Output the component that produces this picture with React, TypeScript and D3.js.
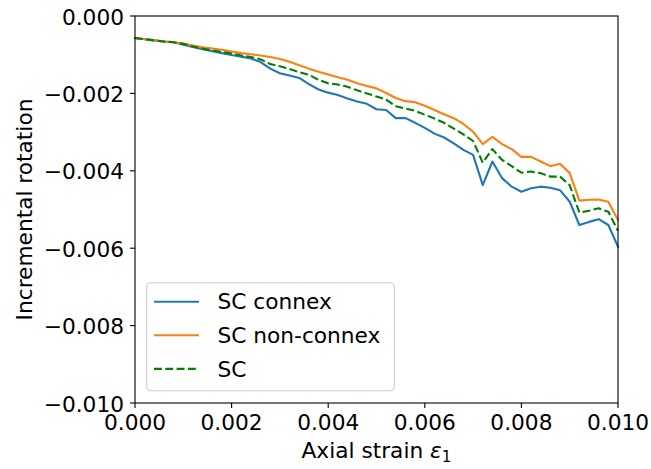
import React from "react";
import * as d3 from "d3";

const strain = [
  0, 0.0002, 0.0004, 0.0006, 0.0008, 0.001, 0.0012, 0.0014, 0.0016, 0.0018,
  0.002, 0.0022, 0.0024, 0.0026, 0.0028, 0.003, 0.0032, 0.0034, 0.0036, 0.0038,
  0.004, 0.0042, 0.0044, 0.0046, 0.0048, 0.005, 0.0052, 0.0054, 0.0056, 0.0058,
  0.006, 0.0062, 0.0064, 0.0066, 0.0068, 0.007, 0.0072, 0.0074, 0.0076, 0.0078,
  0.008, 0.0082, 0.0084, 0.0086, 0.0088, 0.009, 0.0092, 0.0094, 0.0096, 0.0098,
  0.01,
];

const scConnex = [
  -0.00057, -0.0006, -0.00063, -0.00066, -0.00068, -0.00074, -0.0008, -0.00086, -0.00091, -0.00096,
  -0.00101, -0.00105, -0.0011, -0.00119, -0.00136, -0.00148, -0.00154, -0.0016, -0.00176, -0.0019,
  -0.00198, -0.00204, -0.00213, -0.00221, -0.00227, -0.00241, -0.00243, -0.00264, -0.00264, -0.00276,
  -0.00289, -0.00304, -0.00314, -0.00329, -0.00346, -0.00359, -0.00437, -0.00376, -0.00419, -0.00441,
  -0.00454, -0.00445, -0.00441, -0.00444, -0.0045, -0.0048, -0.0054, -0.00532, -0.00525, -0.0054,
  -0.00596,
];

const scNonConnex = [
  -0.00057, -0.0006, -0.00063, -0.00066, -0.00068, -0.00071, -0.00076, -0.00081, -0.00084, -0.00087,
  -0.00092, -0.00096, -0.00099, -0.00102, -0.00106, -0.00111, -0.00118, -0.00127, -0.00136, -0.00144,
  -0.00151, -0.00158, -0.00165, -0.00174, -0.00181, -0.00187, -0.00199, -0.00212, -0.0022, -0.00223,
  -0.00232, -0.00243, -0.00254, -0.00264, -0.00279, -0.00299, -0.00331, -0.00312, -0.00331, -0.00344,
  -0.00364, -0.00364, -0.00376, -0.00388, -0.00382, -0.00406, -0.00477, -0.00475, -0.00474, -0.0048,
  -0.00527,
];

const scAll = [
  -0.00057, -0.0006, -0.00063, -0.00066, -0.00068, -0.00072, -0.00079, -0.00084, -0.00089, -0.00093,
  -0.00097, -0.00102, -0.00106, -0.00112, -0.00124, -0.0013, -0.00137, -0.00145, -0.00152, -0.00165,
  -0.00174, -0.00177, -0.00183, -0.00192, -0.002, -0.00208, -0.00216, -0.00233, -0.00239, -0.00245,
  -0.00255, -0.00265, -0.00276, -0.00291, -0.00306, -0.00323, -0.00379, -0.00344, -0.00372, -0.00388,
  -0.00405, -0.00402, -0.00406, -0.00415, -0.00415, -0.00437, -0.00508, -0.00503, -0.00497, -0.00506,
  -0.00555,
];

const xTicks = [0, 0.002, 0.004, 0.006, 0.008, 0.01];
const xTickLabels = ["0.000", "0.002", "0.004", "0.006", "0.008", "0.010"];
const yTicks = [0, -0.002, -0.004, -0.006, -0.008, -0.01];
const yTickLabels = ["0.000", "\u22120.002", "\u22120.004", "\u22120.006", "\u22120.008", "\u22120.010"];

const seriesNames = ["SC connex", "SC non-connex", "SC"];
const seriesColors = ["#1f77b4", "#ff7f0e", "#008000"];
const seriesDash = [null, null, "7.9,3.4"];
const seriesValues = [scConnex, scNonConnex, scAll];

const W = 651;
const H = 469;
const L = 135;
const R = 618;
const T = 16;
const B = 403;
const FONT = "'DejaVu Sans', sans-serif";
const FS = 21.7;

export default function App() {
  const x = d3.scaleLinear().domain([0, 0.01]).range([L, R]);
  const y = d3.scaleLinear().domain([-0.01, 0]).range([B, T]);
  const line = d3
    .line<number>()
    .x((_, i) => x(strain[i]))
    .y((d) => y(d));

  const legX = 146.7;
  const legY = 282.7;
  const rowY = [301.7, 335.2, 368.9];

  return (
    <div style={{ position: "absolute", left: 0, top: 0 }}>
      <svg width={W} height={H} style={{ display: "block", background: "#fff" }} fontFamily={FONT}>
        <rect x={0} y={0} width={W} height={H} fill="#fff" />
        {seriesValues.map((vals, k) => (
          <path
            key={k}
            d={line(vals) || ""}
            fill="none"
            stroke={seriesColors[k]}
            strokeWidth={2.1}
            strokeDasharray={seriesDash[k] || undefined}
            strokeLinejoin="round"
            strokeLinecap={seriesDash[k] ? "butt" : "square"}
          />
        ))}
        {/* spines */}
        <rect x={L} y={T} width={R - L} height={B - T} fill="none" stroke="#000" strokeWidth={1.1} />
        {/* x ticks */}
        {xTicks.map((t, i) => (
          <g key={"xt" + i}>
            <line x1={x(t)} x2={x(t)} y1={B} y2={B + 5} stroke="#000" strokeWidth={1.1} />
            <text x={x(t)} y={B + 27} fontSize={FS} textAnchor="middle" fill="#000">
              {xTickLabels[i]}
            </text>
          </g>
        ))}
        {/* y ticks */}
        {yTicks.map((t, i) => (
          <g key={"yt" + i}>
            <line x1={L - 5} x2={L} y1={y(t)} y2={y(t)} stroke="#000" strokeWidth={1.1} />
            <text x={L - 11} y={y(t) + 8.5} fontSize={FS} textAnchor="end" fill="#000">
              {yTickLabels[i]}
            </text>
          </g>
        ))}
        {/* axis labels */}
        <text x={(L + R) / 2} y={458} fontSize={FS} textAnchor="middle" fill="#000">
          Axial strain{" "}
          <tspan fontStyle="italic">ε</tspan>
          <tspan fontSize={FS * 0.7} dy={4}>1</tspan>
        </text>
        <text
          transform={`translate(32, ${(T + B) / 2}) rotate(-90)`}
          fontSize={FS}
          textAnchor="middle"
          fill="#000"
        >
          Incremental rotation
        </text>
        {/* legend */}
        <rect
          x={legX}
          y={legY}
          width={247.6}
          height={108}
          rx={4}
          ry={4}
          fill="#fff"
          fillOpacity={0.8}
          stroke="#cccccc"
          strokeWidth={1.1}
        />
        {seriesNames.map((name, k) => (
          <g key={"lg" + k}>
            <line
              x1={154}
              x2={199}
              y1={rowY[k]}
              y2={rowY[k]}
              stroke={seriesColors[k]}
              strokeWidth={2.1}
              strokeDasharray={seriesDash[k] || undefined}
            />
            <text x={217.5} y={rowY[k] + 7.6} fontSize={FS} fill="#000">
              {name}
            </text>
          </g>
        ))}
      </svg>
    </div>
  );
}
